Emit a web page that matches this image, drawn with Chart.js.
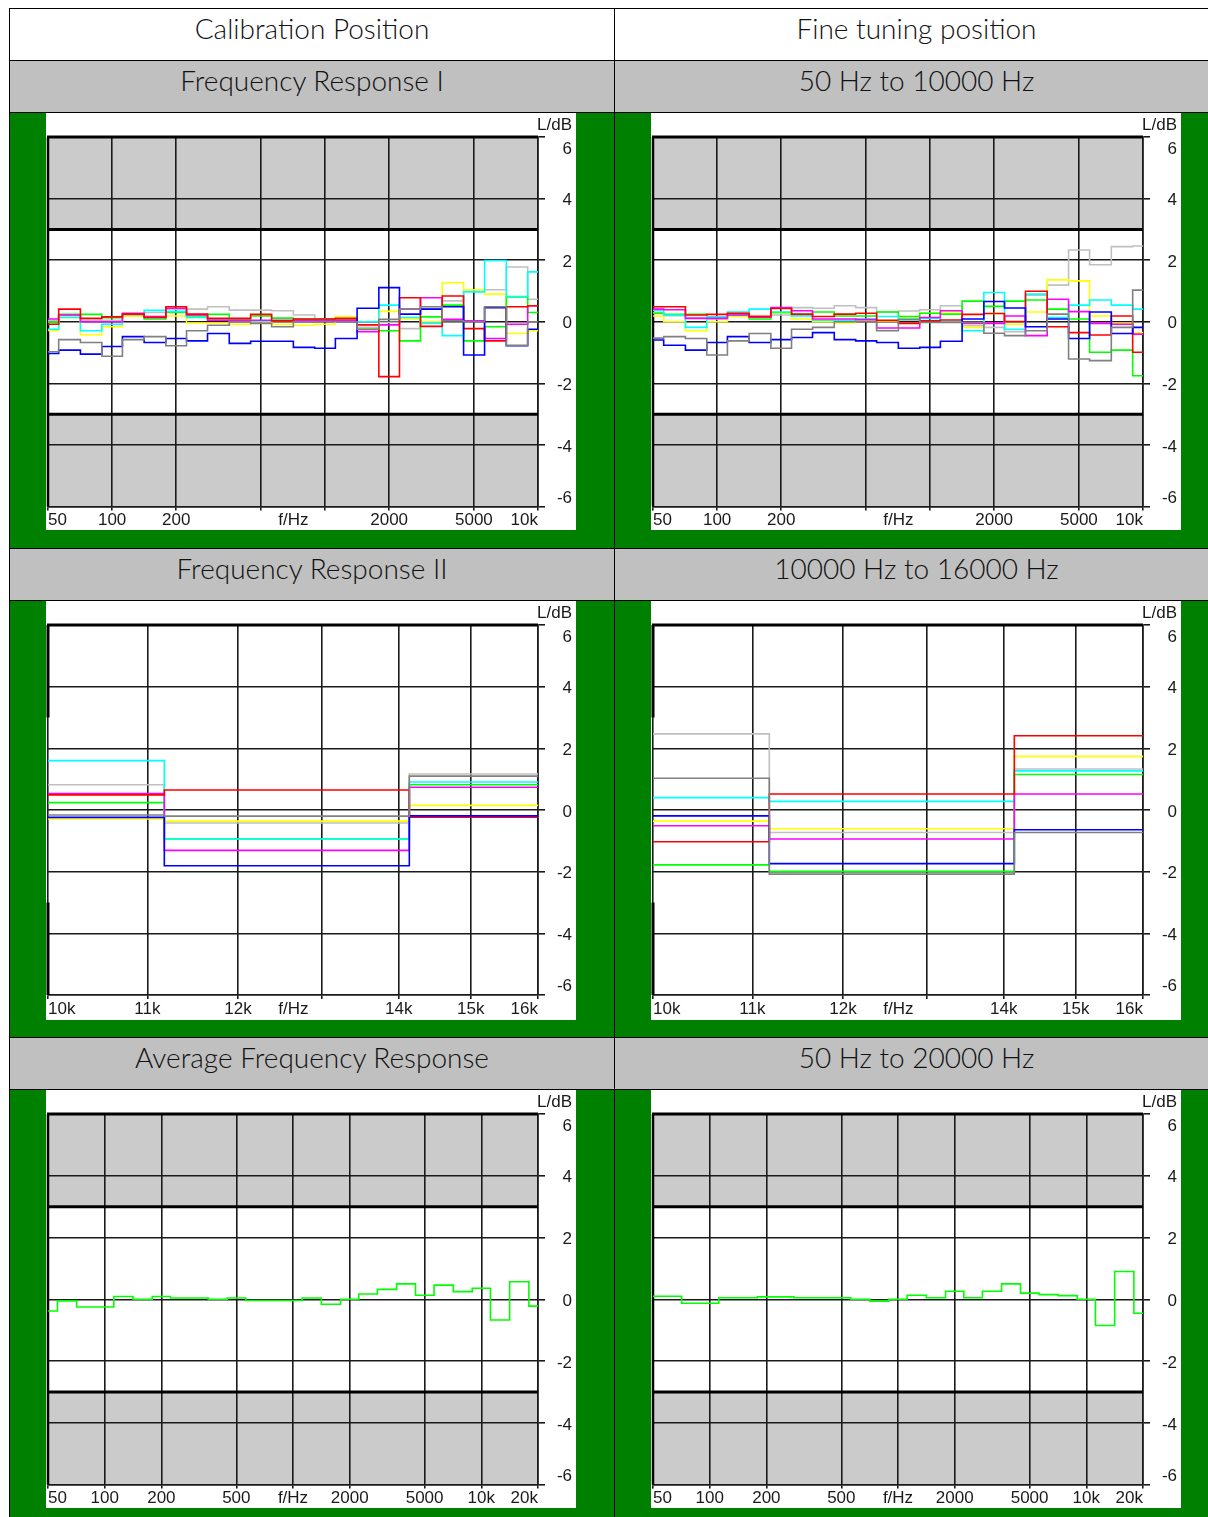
<!DOCTYPE html>
<html><head><meta charset="utf-8">
<script src="https://cdn.jsdelivr.net/npm/chart.js@4.4.0/dist/chart.umd.min.js"></script>
<style>
html,body{margin:0;padding:0;background:#fff;}
body{width:1208px;height:1517px;position:relative;overflow:hidden;}
.frame{position:absolute;left:9px;top:8px;width:1230px;height:1530px;background:#000;}
.cell{position:absolute;box-sizing:border-box;}
.hdr{text-align:center;font-family:Lato,'Open Sans',sans-serif;font-weight:300;font-size:28px;color:#111;line-height:38px;white-space:nowrap;}
.white{background:#fff}
.gray{background:#c0c0c0}
.green{background:#008000}
.box{position:absolute;background:#fff;}
.box canvas{display:block;}
</style></head>
<body>
<div class="frame"></div>
<div class="cell hdr white" style="left:10px;top:9px;width:604px;height:51px">Calibration Position</div>
<div class="cell hdr white" style="left:615px;top:9px;width:603px;height:51px">Fine tuning position</div>
<div class="cell hdr gray" style="left:10px;top:61px;width:604px;height:51px">Frequency Response I</div>
<div class="cell hdr gray" style="left:615px;top:61px;width:603px;height:51px">50 Hz to 10000 Hz</div>
<div class="cell green" style="left:10px;top:113px;width:604px;height:435px"></div>
<div class="cell green" style="left:615px;top:113px;width:603px;height:435px"></div>
<div class="cell hdr gray" style="left:10px;top:549px;width:604px;height:51px">Frequency Response II</div>
<div class="cell hdr gray" style="left:615px;top:549px;width:603px;height:51px">10000 Hz to 16000 Hz</div>
<div class="cell green" style="left:10px;top:601px;width:604px;height:436px"></div>
<div class="cell green" style="left:615px;top:601px;width:603px;height:436px"></div>
<div class="cell hdr gray" style="left:10px;top:1038px;width:604px;height:51px">Average Frequency Response</div>
<div class="cell hdr gray" style="left:615px;top:1038px;width:603px;height:51px">50 Hz to 20000 Hz</div>
<div class="cell green" style="left:10px;top:1090px;width:604px;height:440px"></div>
<div class="cell green" style="left:615px;top:1090px;width:603px;height:440px"></div>

<div class="box" style="left:46px;top:113px;width:530px;height:417px"><canvas id="c1" width="530" height="417"></canvas></div>
<div class="box" style="left:651px;top:113px;width:530px;height:417px"><canvas id="c2" width="530" height="417"></canvas></div>
<div class="box" style="left:46px;top:601px;width:530px;height:419px"><canvas id="c3" width="530" height="419"></canvas></div>
<div class="box" style="left:651px;top:601px;width:530px;height:419px"><canvas id="c4" width="530" height="419"></canvas></div>
<div class="box" style="left:46px;top:1090px;width:530px;height:418px"><canvas id="c5" width="530" height="418"></canvas></div>
<div class="box" style="left:651px;top:1090px;width:530px;height:418px"><canvas id="c6" width="530" height="418"></canvas></div>

<script>
// ---------- data ----------
const bandsI   = [50,63,80,100,125,160,200,250,315,400,500,630,800,1000,1250,1600,2000,2500,3150,4000,5000,6300,8000,10000];
const bandsII  = [10000,12500,16000];
const bandsAvg = [50,63,80,100,125,160,200,250,315,400,500,630,800,1000,1250,1600,2000,2500,3150,4000,5000,6300,8000,10000,12500,16000,20000];

const yTicks = [-6,-4,-2,0,2,4,6];
const toleranceDb = 3;

const xTicksI    = [50,100,200,500,710,1000,2000,5000,10000];
const xLabelsI   = ['50','100','200','','f/Hz','','2000','5000','10k'];
const xTicksII   = [10000,11000,12000,12655,13000,14000,15000,16000];
const xLabelsII  = ['10k','11k','12k','f/Hz','','14k','15k','16k'];
const xTicksAvg  = [50,100,200,500,1000,2000,5000,10000,20000];
const xLabelsAvg = ['50','100','200','500','f/Hz','2000','5000','10k','20k'];

// Calibration position, Frequency Response I (dB per 1/3-octave band)
const calRed     = [-0.08,0.41,0.11,0.16,0.25,0.14,0.49,0.25,0.11,0.11,0.24,0.03,0.09,0.09,0.11,-0.10,-1.78,0.78,-0.15,0.84,-0.22,-0.62,0.49,0.52];
const calYellow  = [-0.28,0.14,-0.42,-0.16,0.19,0.17,0.19,-0.04,-0.04,-0.08,0.00,-0.08,-0.11,-0.08,0.17,-0.24,0.34,0.09,0.00,1.27,1.04,0.90,-0.38,-0.29];
const calGreen   = [-0.02,0.24,0.24,0.13,0.24,0.09,0.30,0.19,0.24,0.09,0.19,0.12,0.09,0.09,0.09,-0.24,-0.29,-0.62,0.16,0.54,-0.62,-0.16,0.81,0.30];
const calCyan    = [-0.24,0.14,-0.29,-0.08,0.24,0.37,0.34,0.14,0.09,0.03,0.03,0.03,0.03,0.06,0.03,0.00,0.54,0.14,-0.05,-0.45,0.97,1.99,0.82,1.62];
const calMagenta = [0.09,0.22,0.00,0.00,0.28,0.17,0.44,0.22,0.05,0.05,0.05,0.05,0.05,0.05,0.05,-0.32,-0.10,0.41,0.78,0.08,0.03,-0.54,-0.08,0.52];
const calBlue    = [-1.03,-0.92,-1.05,-0.80,-0.48,-0.67,-0.54,-0.62,-0.38,-0.70,-0.63,-0.63,-0.83,-0.86,-0.54,0.44,1.11,0.25,0.41,0.49,-1.08,0.46,-0.78,-0.24];
const calGrey    = [-0.97,-0.58,-0.67,-1.12,-0.58,-0.48,-0.78,-0.29,-0.11,0.00,-0.05,-0.16,0.00,0.00,0.00,-0.24,0.08,0.41,0.49,0.03,0.00,0.49,-0.76,0.00];
const calSilver  = [0.03,0.20,0.05,0.05,0.20,0.30,0.41,0.41,0.49,0.38,0.38,0.36,0.22,0.09,0.09,-0.18,-0.02,-0.22,0.43,0.68,1.04,1.04,1.78,0.73];

// Fine tuning position, 50 Hz to 10000 Hz
const finRed     = [0.49,0.49,0.22,0.24,0.28,0.17,0.43,0.25,0.17,0.25,0.28,0.05,-0.05,0.03,0.06,0.24,0.27,0.01,0.99,-0.16,-0.35,-0.43,0.19,-0.99];
const finYellow  = [0.19,0.00,-0.29,0.00,0.17,0.17,0.28,0.09,0.00,-0.04,0.03,0.03,0.11,0.28,0.32,-0.18,0.27,-0.08,0.32,1.36,1.33,0.19,-0.05,-0.35];
const finGreen   = [0.28,0.24,0.24,0.16,0.22,0.09,0.30,0.22,0.32,0.19,0.19,0.32,0.17,0.28,0.25,0.67,0.50,0.67,0.71,0.41,0.09,-0.99,-0.92,-1.75];
const finCyan    = [0.38,0.22,-0.18,0.16,0.32,0.41,0.32,0.19,0.05,0.05,0.09,0.17,0.09,0.11,0.00,-0.29,0.95,-0.24,0.90,0.14,0.54,0.71,0.54,0.41];
const finMagenta = [0.41,0.39,0.11,0.11,0.22,0.15,0.46,0.36,0.09,0.09,0.07,-0.20,-0.20,0.14,0.36,-0.05,-0.05,0.19,-0.45,0.73,0.33,-0.05,-0.08,-0.40];
const finBlue    = [-0.59,-0.76,-0.92,-0.67,-0.48,-0.67,-0.58,-0.51,-0.35,-0.58,-0.62,-0.67,-0.86,-0.83,-0.63,0.09,0.66,0.45,-0.16,0.09,-0.54,0.32,-0.38,-0.18];
const finGrey    = [-0.53,-0.48,-0.54,-1.08,-0.62,-0.38,-0.86,-0.24,-0.18,0.00,0.00,-0.29,0.07,-0.02,-0.02,-0.02,-0.37,-0.45,-0.29,0.25,-1.21,-1.26,-0.18,1.03];
const finSilver  = [0.30,0.20,0.14,0.09,0.20,0.20,0.22,0.46,0.44,0.52,0.46,0.32,0.35,0.39,0.52,-0.13,-0.18,-0.32,0.86,1.19,2.33,1.85,2.44,2.46];

// Frequency Response II (10k, 12.5k, 16k bands)
const cal2Red     = [0.49,0.65,-0.23];
const cal2Yellow  = [-0.29,-0.36,0.15];
const cal2Green   = [0.24,-0.94,0.82];
const cal2Cyan    = [1.60,-0.94,0.91];
const cal2Magenta = [0.53,-1.31,0.74];
const cal2Blue    = [-0.24,-1.81,-0.19];
const cal2Grey    = [-0.16,-0.20,1.10];
const cal2Silver  = [0.82,-0.42,1.17];

const fin2Red     = [-1.03,0.52,2.41];
const fin2Yellow  = [-0.36,-0.61,1.74];
const fin2Green   = [-1.78,-1.99,1.15];
const fin2Cyan    = [0.40,0.28,1.27];
const fin2Magenta = [-0.51,-0.94,0.52];
const fin2Blue    = [-0.19,-1.74,-0.64];
const fin2Grey    = [1.03,-2.08,-0.73];
const fin2Silver  = [2.47,-0.73,1.33];

// Average frequency response
const avgCal  = [-0.38,-0.05,-0.25,-0.25,0.09,0.00,0.09,0.04,0.04,0.00,0.04,-0.04,-0.04,-0.04,0.04,-0.16,0.00,0.17,0.32,0.50,0.13,0.46,0.25,0.36,-0.67,0.57,-0.22];
const avgFine = [0.10,0.10,-0.13,-0.13,0.05,0.05,0.08,0.08,0.05,0.05,0.05,0.00,-0.06,0.00,0.13,0.05,0.26,0.05,0.26,0.50,0.20,0.15,0.12,0.00,-0.85,0.90,-0.45];

const seriesColors = {red:'#ff0000', yellow:'#ffff00', green:'#00ff00', cyan:'#00ffff', magenta:'#ff00ff', blue:'#0000ff', grey:'#808080', silver:'#c0c0c0'};

// ---------- drawing ----------
Chart.defaults.font.family = "'Liberation Sans', Arial, sans-serif";
Chart.defaults.font.size = 17;
Chart.defaults.color = '#1a1a1a';

const decor = {
  id: 'decor',
  beforeDraw(chart, args, o) {
    if (!o.band) return;
    const {ctx, chartArea: a, scales: {y}} = chart;
    ctx.save();
    ctx.fillStyle = '#cbcbcb';
    const t = y.getPixelForValue(y.max), p = y.getPixelForValue(toleranceDb);
    const n = y.getPixelForValue(-toleranceDb), b = y.getPixelForValue(y.min);
    ctx.fillRect(a.left, t, a.right - a.left, p - t);
    ctx.fillRect(a.left, n, a.right - a.left, b - n);
    ctx.restore();
  },
  beforeDatasetsDraw(chart, args, o) {
    const {ctx, chartArea: a, scales: {y}} = chart;
    ctx.save();
    ctx.strokeStyle = '#000';
    const p = y.getPixelForValue(toleranceDb), n = y.getPixelForValue(-toleranceDb);
    if (o.band) {
      ctx.lineWidth = 3;
      ctx.beginPath();
      ctx.moveTo(a.left, p); ctx.lineTo(a.right, p);
      ctx.moveTo(a.left, n); ctx.lineTo(a.right, n);
      ctx.stroke();
      ctx.lineWidth = 2.5;
      ctx.beginPath(); ctx.moveTo(a.left, a.top); ctx.lineTo(a.left, a.bottom); ctx.stroke();
    } else {
      ctx.lineWidth = 3;
      ctx.beginPath();
      ctx.moveTo(a.left, a.top); ctx.lineTo(a.left, p);
      ctx.moveTo(a.left, n); ctx.lineTo(a.left, a.bottom);
      ctx.stroke();
    }
    ctx.lineWidth = 3;
    ctx.beginPath(); ctx.moveTo(a.left - 1, a.top); ctx.lineTo(a.right, a.top); ctx.stroke();
    ctx.restore();
  },
  afterDraw(chart) {
    const {ctx} = chart;
    ctx.save();
    ctx.font = "17px 'Liberation Sans', Arial, sans-serif";
    ctx.fillStyle = '#1a1a1a';
    ctx.textAlign = 'right';
    ctx.textBaseline = 'middle';
    ctx.fillText('L/dB', chart.width - 4, 12);
    ctx.restore();
  }
};

function makeChart(id, freqs, series, xMin, xMax, xTicks, xLabels, noGrid, band, axisH) {
  const datasets = series.map(([key, vals]) => ({
    label: key,
    data: freqs.map((f, i) => ({x: f, y: vals[i]})),
    borderColor: seriesColors[key],
    borderWidth: 1.6,
    pointRadius: 0,
    stepped: 'middle',
    fill: false
  }));
  new Chart(document.getElementById(id), {
    type: 'line',
    data: {datasets},
    plugins: [decor],
    options: {
      responsive: false,
      animation: false,
      devicePixelRatio: 1,
      layout: {padding: {top: 24, right: 4, left: 2, bottom: 0}},
      plugins: {legend: {display: false}, tooltip: {enabled: false}, decor: {band}},
      scales: {
        x: {
          type: 'logarithmic', min: xMin, max: xMax, position: 'bottom',
          afterBuildTicks: s => { s.ticks = xTicks.map(v => ({value: v})); },
          afterFit: s => { s.height = axisH; },
          ticks: {autoSkip: false, maxRotation: 0, minRotation: 0, align: 'inner', padding: 0,
                  callback: (v, i) => xLabels[i]},
          grid: {color: c => (c.tick && noGrid.includes(c.tick.value)) ? 'rgba(0,0,0,0)' : '#1a1a1a',
                 lineWidth: 1.6, tickLength: 4, drawTicks: true},
          border: {display: true, color: '#1a1a1a', width: 1.6}
        },
        y: {
          type: 'linear', min: -6, max: 6, position: 'right',
          afterBuildTicks: s => { s.ticks = yTicks.map(v => ({value: v})); },
          afterFit: s => { s.width = 34; },
          ticks: {crossAlign: 'far', padding: 3, labelOffset: 2,
                  callback: v => v === 6 ? ['', '6'] : (v === -6 ? ['-6', ''] : String(v))},
          grid: {color: '#1a1a1a', lineWidth: 1.6, tickLength: 7},
          border: {display: true, color: '#1a1a1a', width: 1.6}
        }
      }
    }
  });
}

makeChart('c1', bandsI, [['silver',calSilver],['yellow',calYellow],['green',calGreen],['cyan',calCyan],['magenta',calMagenta],['red',calRed],['blue',calBlue],['grey',calGrey]].reverse(),
  50, 10000, xTicksI, xLabelsI, [710], true, 22);
makeChart('c2', bandsI, [['silver',finSilver],['yellow',finYellow],['green',finGreen],['cyan',finCyan],['magenta',finMagenta],['red',finRed],['blue',finBlue],['grey',finGrey]].reverse(),
  50, 10000, xTicksI, xLabelsI, [710], true, 22);
makeChart('c3', bandsII, [['silver',cal2Silver],['yellow',cal2Yellow],['green',cal2Green],['cyan',cal2Cyan],['magenta',cal2Magenta],['red',cal2Red],['blue',cal2Blue],['grey',cal2Grey]].reverse(),
  10000, 16000, xTicksII, xLabelsII, [12655], false, 25);
makeChart('c4', bandsII, [['silver',fin2Silver],['yellow',fin2Yellow],['green',fin2Green],['cyan',fin2Cyan],['magenta',fin2Magenta],['red',fin2Red],['blue',fin2Blue],['grey',fin2Grey]].reverse(),
  10000, 16000, xTicksII, xLabelsII, [12655], false, 25);
makeChart('c5', bandsAvg, [['green',avgCal]], 50, 20000, xTicksAvg, xLabelsAvg, [], true, 22);
makeChart('c6', bandsAvg, [['green',avgFine]], 50, 20000, xTicksAvg, xLabelsAvg, [], true, 22);
</script>
</body></html>
